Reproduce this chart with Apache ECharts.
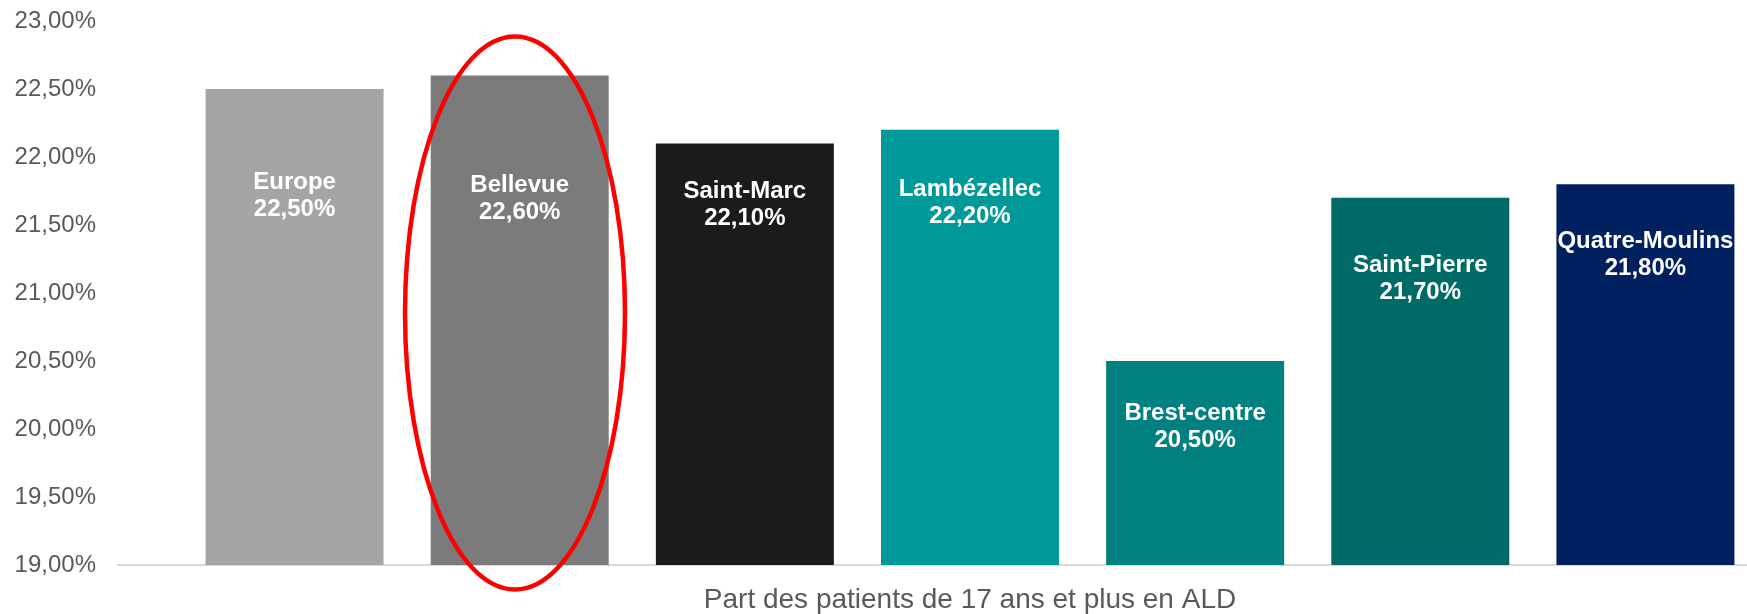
<!DOCTYPE html>
<html>
<head>
<meta charset="utf-8">
<script src="https://cdn.jsdelivr.net/npm/echarts@6/dist/echarts.min.js"></script>
<style>
  html, body { margin: 0; padding: 0; background: #ffffff; }
  #chart { width: 1747px; height: 614px; }
</style>
</head>
<body>
<div id="chart"></div>
<script>
// ---- data ----
const categories = ['Europe', 'Bellevue', 'Saint-Marc', 'Lambézellec', 'Brest-centre', 'Saint-Pierre', 'Quatre-Moulins'];
const values = [22.5, 22.6, 22.1, 22.2, 20.5, 21.7, 21.8];
const yTicks = [19, 19.5, 20, 20.5, 21, 21.5, 22, 22.5, 23];
const axisTitle = 'Part des patients de 17 ans et plus en ALD';

// ---- styles ----
const barColors = ['#A5A5A5', '#7B7B7B', '#1B1B1B', '#009999', '#008080', '#006B66', '#002060'];
const labelGaps = [80, 96, 34, 46, 39, 54, 44];

const fmt = v => v.toFixed(2).replace('.', ',') + '%';

const chart = echarts.init(document.getElementById('chart'), null, { renderer: 'canvas' });

const yMin = yTicks[0], yMax = yTicks[yTicks.length - 1], yStep = yTicks[1] - yTicks[0];

const option = {
  animation: false,
  backgroundColor: '#ffffff',
  grid: [
    { left: 182, top: 21, bottom: 49, width: 1576, containLabel: false, outerBoundsMode: 'none' },
    { left: 118, top: 21, bottom: 49, right: 0, containLabel: false, outerBoundsMode: 'none' }
  ],
  xAxis: [
    {
      gridIndex: 0,
      type: 'category',
      data: categories,
      axisLine: { show: false },
      axisTick: { show: false },
      axisLabel: { show: false },
      name: axisTitle,
      nameLocation: 'middle',
      nameGap: 21,
      nameTextStyle: {
        color: '#595959',
        fontSize: 28,
        lineHeight: 28,
        fontFamily: 'Liberation Sans, Arial, sans-serif'
      }
    },
    {
      gridIndex: 1,
      type: 'value',
      min: 0, max: 1,
      axisLine: { show: true, lineStyle: { color: '#D9D9D9', width: 2 } },
      axisTick: { show: false },
      axisLabel: { show: false },
      splitLine: { show: false }
    }
  ],
  yAxis: [
    {
      gridIndex: 0,
      type: 'value',
      min: yMin, max: yMax, interval: yStep,
      axisLine: { show: false },
      axisTick: { show: false },
      axisLabel: { show: false },
      splitLine: { show: false }
    },
    {
      gridIndex: 1,
      type: 'value',
      min: yMin, max: yMax, interval: yStep,
      axisLine: { show: false },
      axisTick: { show: false },
      splitLine: { show: false },
      axisLabel: {
        margin: 22,
        color: '#595959',
        fontSize: 24,
        fontFamily: 'Liberation Sans, Arial, sans-serif',
        formatter: v => fmt(v)
      }
    }
  ],
  series: [
    {
      type: 'bar',
      xAxisIndex: 0,
      yAxisIndex: 0,
      barWidth: 178,
      data: values.map((v, i) => ({
        value: v,
        itemStyle: { color: barColors[i] },
        label: { distance: labelGaps[i] }
      })),
      label: {
        show: true,
        position: 'insideTop',
        color: '#ffffff',
        fontWeight: 'bold',
        fontSize: 24,
        lineHeight: 27,
        fontFamily: 'Liberation Sans, Arial, sans-serif',
        formatter: p => p.name + '\n' + fmt(p.value)
      }
    }
  ],
  graphic: [
    {
      type: 'ellipse',
      shape: { cx: 515, cy: 313, rx: 110, ry: 276.5 },
      style: { fill: null, stroke: '#FF0000', lineWidth: 4.5 },
      z: 100
    }
  ]
};

chart.setOption(option);
</script>
</body>
</html>
